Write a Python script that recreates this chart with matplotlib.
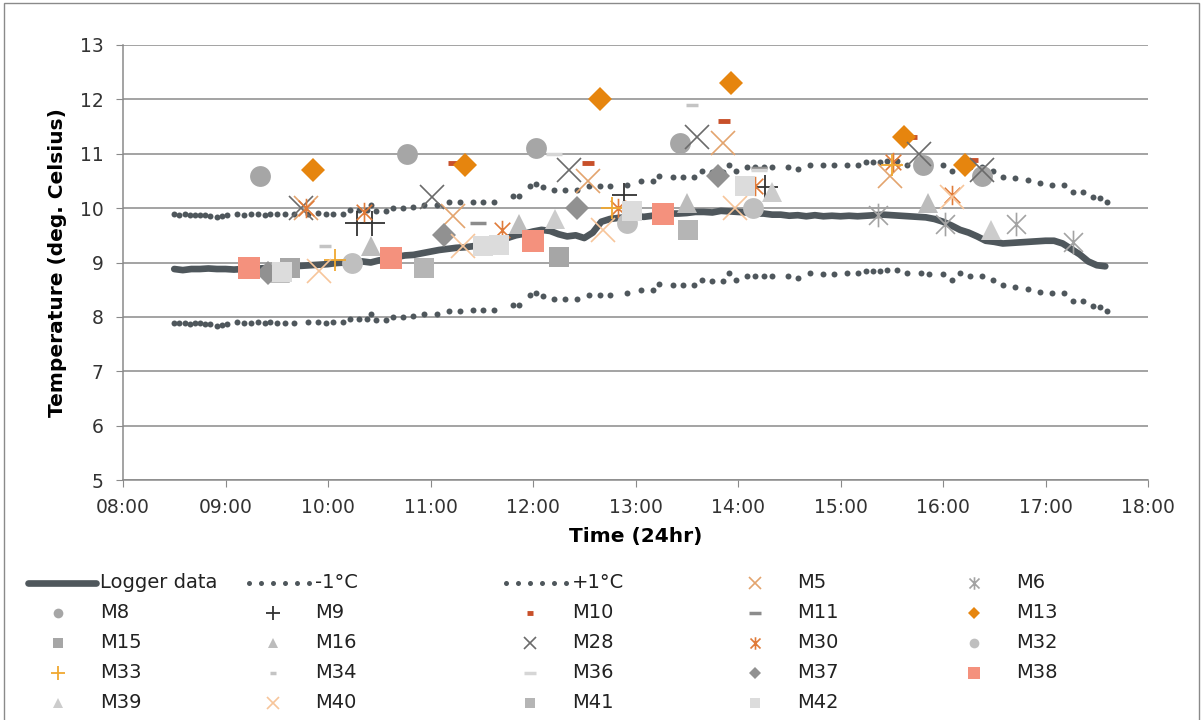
import matplotlib.pyplot as plt
from matplotlib.lines import Line2D
from matplotlib.path import Path
from matplotlib.patches import Rectangle

# ──────────────────────────────────────────────────────────────────────
# DATA (times as HH:MM, temperatures in deg. C)
# ──────────────────────────────────────────────────────────────────────
logger_times = [
    "08:30", "08:35", "08:40", "08:45", "08:50", "08:55", "09:00", "09:05", "09:10", "09:15",
    "09:20", "09:25", "09:30", "09:35", "09:40", "09:45", "09:50", "09:55", "10:00", "10:05",
    "10:10", "10:15", "10:20", "10:25", "10:30", "10:35", "10:40", "10:45", "10:50", "10:55",
    "11:00", "11:05", "11:10", "11:15", "11:20", "11:25", "11:30", "11:35", "11:40", "11:45",
    "11:50", "11:55", "12:00", "12:05", "12:10", "12:15", "12:20", "12:25", "12:30", "12:35",
    "12:40", "12:45", "12:50", "12:55", "13:00", "13:05", "13:10", "13:15", "13:20", "13:25",
    "13:30", "13:35", "13:40", "13:45", "13:50", "13:55", "14:00", "14:05", "14:10", "14:15",
    "14:20", "14:25", "14:30", "14:35", "14:40", "14:45", "14:50", "14:55", "15:00", "15:05",
    "15:10", "15:15", "15:20", "15:25", "15:30", "15:35", "15:40", "15:45", "15:50", "15:55",
    "16:00", "16:05", "16:10", "16:15", "16:20", "16:25", "16:30", "16:35", "16:40", "16:45",
    "16:50", "16:55", "17:00", "17:05", "17:10", "17:15", "17:20", "17:25", "17:30", "17:35",
]
logger_temp = [
    8.88, 8.86, 8.88, 8.88, 8.89, 8.88, 8.88, 8.87, 8.88, 8.88,
    8.89, 8.90, 8.90, 8.91, 8.93, 8.94, 8.95, 8.96, 8.97, 8.99,
    9.00, 9.00, 9.02, 9.00, 9.04, 9.06, 9.10, 9.13, 9.14, 9.17,
    9.20, 9.23, 9.25, 9.27, 9.28, 9.30, 9.33, 9.36, 9.40, 9.45,
    9.50, 9.53, 9.57, 9.60, 9.58, 9.52, 9.48, 9.50, 9.45, 9.55,
    9.75, 9.80, 9.82, 9.83, 9.85, 9.84, 9.86, 9.88, 9.90, 9.90,
    9.91, 9.93, 9.93, 9.92, 9.95, 9.94, 9.93, 9.92, 9.90, 9.90,
    9.88, 9.88, 9.86, 9.87, 9.85, 9.87, 9.85, 9.86, 9.85, 9.86,
    9.85, 9.86, 9.87, 9.88, 9.87, 9.86, 9.85, 9.84, 9.83, 9.80,
    9.75, 9.68, 9.60, 9.55, 9.48, 9.40, 9.38, 9.35, 9.36, 9.37,
    9.38, 9.39, 9.40, 9.40, 9.35, 9.25, 9.15, 9.02, 8.95, 8.93,
]

band_times = [
    "08:30", "08:33", "08:36", "08:39", "08:42", "08:45", "08:48", "08:51", "08:55", "08:58",
    "09:01", "09:07", "09:11", "09:15", "09:19", "09:23", "09:26", "09:30", "09:35", "09:40",
    "09:48", "09:54", "09:59", "10:03", "10:09", "10:13", "10:18", "10:23", "10:25", "10:28",
    "10:34", "10:38", "10:44", "10:50", "10:56", "11:04", "11:11", "11:17", "11:25", "11:31",
    "11:37", "11:48", "11:52", "11:58", "12:02", "12:06", "12:12", "12:19", "12:26", "12:33",
    "12:39", "12:45", "12:55", "13:03", "13:10", "13:14", "13:22", "13:28", "13:34", "13:39",
    "13:45", "13:51", "13:55", "13:59", "14:05", "14:10", "14:15", "14:20", "14:29", "14:35",
    "14:42", "14:50", "14:56", "15:04", "15:10", "15:15", "15:19", "15:23", "15:27", "15:33",
    "15:39", "15:47", "15:52", "16:00", "16:05", "16:10", "16:16", "16:23", "16:29", "16:35",
    "16:42", "16:50", "16:57", "17:04", "17:11", "17:16", "17:22", "17:28", "17:32", "17:36",
]
lower_temp = [
    7.89, 7.88, 7.89, 7.87, 7.88, 7.88, 7.87, 7.86, 7.84, 7.85,
    7.87, 7.90, 7.88, 7.89, 7.90, 7.88, 7.90, 7.89, 7.89, 7.89,
    7.90, 7.91, 7.89, 7.90, 7.90, 7.96, 7.97, 7.97, 8.06, 7.94,
    7.94, 8.00, 8.00, 8.02, 8.05, 8.05, 8.11, 8.11, 8.12, 8.12,
    8.12, 8.22, 8.22, 8.40, 8.44, 8.38, 8.33, 8.33, 8.33, 8.40,
    8.40, 8.40, 8.43, 8.49, 8.49, 8.60, 8.58, 8.58, 8.58, 8.68,
    8.66, 8.66, 8.80, 8.68, 8.75, 8.75, 8.75, 8.75, 8.75, 8.72,
    8.80, 8.79, 8.79, 8.80, 8.80, 8.84, 8.84, 8.84, 8.87, 8.87,
    8.80, 8.80, 8.79, 8.79, 8.68, 8.80, 8.75, 8.75, 8.68, 8.58,
    8.55, 8.52, 8.46, 8.43, 8.43, 8.30, 8.30, 8.20, 8.18, 8.11,
]
upper_temp = [
    9.89, 9.88, 9.89, 9.87, 9.88, 9.88, 9.87, 9.86, 9.84, 9.85,
    9.87, 9.90, 9.88, 9.89, 9.90, 9.88, 9.90, 9.89, 9.89, 9.89,
    9.90, 9.91, 9.89, 9.90, 9.90, 9.96, 9.97, 9.97, 10.06, 9.94,
    9.94, 10.00, 10.00, 10.02, 10.05, 10.05, 10.11, 10.11, 10.12, 10.12,
    10.12, 10.22, 10.22, 10.40, 10.44, 10.38, 10.33, 10.33, 10.33, 10.40,
    10.40, 10.40, 10.43, 10.49, 10.49, 10.60, 10.58, 10.58, 10.58, 10.68,
    10.66, 10.66, 10.80, 10.68, 10.75, 10.75, 10.75, 10.75, 10.75, 10.72,
    10.80, 10.79, 10.79, 10.80, 10.80, 10.84, 10.84, 10.84, 10.87, 10.87,
    10.80, 10.80, 10.79, 10.79, 10.68, 10.80, 10.75, 10.75, 10.68, 10.58,
    10.55, 10.52, 10.46, 10.43, 10.43, 10.30, 10.30, 10.20, 10.18, 10.11,
]

# spot measurements per meter (time, temperature)
M5_t = ["09:47", "11:13", "12:32", "13:51", "15:29"]
M5_v = [10.0, 9.85, 10.5, 11.2, 10.6]
M6_t = ["15:22", "16:01", "16:43", "17:16"]
M6_v = [9.88, 9.7, 9.7, 9.38]
M8_t = ["09:20", "10:46", "12:02", "13:26", "15:48", "16:23"]
M8_v = [10.6, 11.0, 11.1, 11.2, 10.8, 10.6]
M9_t = ["10:17", "10:26", "12:53", "14:16"]
M9_v = [9.72, 9.72, 10.25, 10.38]
M10_t = ["11:14", "12:32", "13:52", "15:41", "16:17"]
M10_v = [10.83, 10.83, 11.6, 11.3, 10.88]
M11_t = ["11:28", "14:12"]
M11_v = [9.72, 10.73]
M13_t = ["09:51", "11:20", "12:39", "13:56", "15:37", "16:13"]
M13_v = [10.7, 10.8, 12.0, 12.3, 11.3, 10.8]
M15_t = ["09:38", "12:15"]
M15_v = [8.9, 9.1]
M16_t = ["09:32", "10:25", "11:52", "13:30", "15:51"]
M16_v = [8.8, 9.3, 9.7, 10.1, 10.1]
M28_t = ["09:44", "11:01", "12:21", "13:36", "15:46", "16:23"]
M28_v = [10.0, 10.2, 10.7, 11.3, 11.0, 10.7]
M30_t = ["09:47", "10:21", "11:42", "12:50", "14:10", "15:31", "16:05"]
M30_v = [10.0, 9.93, 9.6, 10.0, 10.4, 10.85, 10.24]
M32_t = ["10:14", "12:55", "14:09"]
M32_v = [9.0, 9.72, 10.0]
M33_t = ["10:04", "12:46", "15:30"]
M33_v = [9.05, 10.0, 10.8]
M34_t = ["09:58", "13:33"]
M34_v = [9.3, 11.9]
M36_t = ["12:12", "14:12"]
M36_v = [11.0, 10.7]
M37_t = ["09:25", "11:08", "12:26", "13:48"]
M37_v = [8.8, 9.5, 10.0, 10.6]
M38_t = ["09:14", "10:37", "12:00", "13:16"]
M38_v = [8.9, 9.08, 9.39, 9.89]
M39_t = ["12:13", "14:20", "16:28"]
M39_v = [9.8, 10.3, 9.6]
M40_t = ["09:55", "11:19", "12:41", "13:58", "16:05"]
M40_v = [8.85, 9.3, 9.6, 10.0, 10.2]
M41_t = ["10:56", "13:31"]
M41_v = [8.9, 9.6]
M42_t = ["09:33", "11:31", "11:40", "12:58", "14:04"]
M42_v = [8.82, 9.3, 9.32, 9.95, 10.4]

DARK = "#4f575c"
FIG_W, FIG_H = 1203, 720


def hrs(times):
    return [int(t[:2]) + int(t[3:]) / 60 for t in times]


# Excel style "star" marker: an x with a vertical bar
STAR = Path([(-1, -1), (1, 1), (-1, 1), (1, -1), (0, -1.25), (0, 1.25)],
            [Path.MOVETO, Path.LINETO, Path.MOVETO, Path.LINETO, Path.MOVETO, Path.LINETO])

# name, times, values, marker style, plot size, legend size
meters = [
    ("M5", M5_t, M5_v, dict(marker="x", color="#e3a46e", mew=1.2), 17, 9),
    ("M6", M6_t, M6_v, dict(marker=STAR, color="#a3a3a3", mew=1.2), 17, 9),
    ("M8", M8_t, M8_v, dict(marker="o", color="#a6a6a6", mew=0), 15, 7),
    ("M9", M9_t, M9_v, dict(marker="+", color="#333333", mew=1.3), 18, 10),
    ("M10", M10_t, M10_v, dict(marker="_", color="#c8502a", mew=3.5), 8, 5),
    ("M11", M11_t, M11_v, dict(marker="_", color="#8c8c8c", mew=2.5), 11, 8),
    ("M13", M13_t, M13_v, dict(marker="D", color="#e6850e", mew=0), 12, 6),
    ("M15", M15_t, M15_v, dict(marker="s", color="#a6a6a6", mew=0), 14, 7),
    ("M16", M16_t, M16_v, dict(marker="^", color="#bcbcbc", mew=0), 15, 7),
    ("M28", M28_t, M28_v, dict(marker="x", color="#6b6b6b", mew=1.2), 17, 9),
    ("M30", M30_t, M30_v, dict(marker=STAR, color="#e07b39", mew=1.2), 14, 9),
    ("M32", M32_t, M32_v, dict(marker="o", color="#bfbfbf", mew=0), 15, 7),
    ("M33", M33_t, M33_v, dict(marker="+", color="#f0a830", mew=1.3), 16, 10),
    ("M34", M34_t, M34_v, dict(marker="_", color="#c4c4c4", mew=2.5), 8, 5),
    ("M36", M36_t, M36_v, dict(marker="_", color="#d6d6d6", mew=2.5), 12, 8),
    ("M37", M37_t, M37_v, dict(marker="D", color="#919191", mew=0), 12, 6),
    ("M38", M38_t, M38_v, dict(marker="s", color="#f4917d", mew=0), 16, 8),
    ("M39", M39_t, M39_v, dict(marker="^", color="#cccccc", mew=0), 15, 7),
    ("M40", M40_t, M40_v, dict(marker="x", color="#f7c59a", mew=1.2), 17, 9),
    ("M41", M41_t, M41_v, dict(marker="s", color="#b5b5b5", mew=0), 14, 7),
    ("M42", M42_t, M42_v, dict(marker="s", color="#dcdcdc", mew=0), 14, 7),
]

fig = plt.figure(figsize=(FIG_W / 100, FIG_H / 100), dpi=100)
ax = fig.add_axes([123 / FIG_W, 1 - 480 / FIG_H, (1148 - 123) / FIG_W, (480 - 45) / FIG_H])

ax.plot(hrs(logger_times), logger_temp, color=DARK, lw=4.8, solid_capstyle="round", zorder=3)
ax.plot(hrs(band_times), lower_temp, ls="none", marker="o", ms=4.3, color=DARK, mew=0, zorder=3)
ax.plot(hrs(band_times), upper_temp, ls="none", marker="o", ms=4.3, color=DARK, mew=0, zorder=3)

for name, t, v, style, ms, _ in meters:
    st = dict(style)
    c = st.pop("color")
    ax.plot(hrs(t), v, ls="none", ms=ms, markerfacecolor=c, markeredgecolor=c, zorder=4, **st)

ax.set_xlim(8, 18)
ax.set_ylim(5, 13)
ax.set_xticks(range(8, 19))
ax.set_xticklabels([f"{h:02d}:00" for h in range(8, 19)])
ax.set_yticks(range(5, 14))
ax.yaxis.grid(True, color="#8a8a8a", lw=1.1)
ax.set_axisbelow(True)
for s in ["top", "right"]:
    ax.spines[s].set_visible(False)
for s in ["left", "bottom"]:
    ax.spines[s].set_color("#8a8a8a")
    ax.spines[s].set_linewidth(1.1)
ax.tick_params(direction="out", length=5, color="#8a8a8a", labelsize=13.5,
               labelcolor="#333333")
ax.tick_params(axis="x", pad=8)
ax.tick_params(axis="y", pad=9)
ax.set_xlabel("Time (24hr)", fontsize=14.5, fontweight="bold", labelpad=7)
ax.set_ylabel("Temperature (deg. Celsius)", fontsize=14.5, fontweight="bold", labelpad=9)

# legend laid out like the Excel grid: 5 columns, 5 rows
col_text_x = [100, 315, 572, 797, 1016]
row_y = [583 + 30 * i for i in range(5)]


def fx(px):
    return px / FIG_W


def fy(py):
    return 1 - py / FIG_H


def legend_text(col, row, label):
    fig.text(fx(col_text_x[col]), fy(row_y[row]), label, fontsize=14, va="center",
             ha="left", color="#222222")


# row 1: line series
fig.add_artist(Line2D([fx(28), fx(96)], [fy(row_y[0])] * 2, transform=fig.transFigure,
                      color=DARK, lw=4.8, solid_capstyle="round"))
legend_text(0, 0, "Logger data")
for col, lab in [(1, "-1°C"), (2, "+1°C")]:
    x0 = col_text_x[col] - 66
    xs = [fx(x0 + 12 * k) for k in range(6)]
    fig.add_artist(Line2D(xs, [fy(row_y[0])] * 6, transform=fig.transFigure,
                          ls="none", marker="o", ms=3.6, color=DARK, mew=0))
    legend_text(col, 0, lab)

for i, (name, t, v, style, ms, lms) in enumerate(meters):
    row, col = divmod(i + 3, 5)
    st = dict(style)
    c = st.pop("color")
    fig.add_artist(Line2D([fx(col_text_x[col] - 42)], [fy(row_y[row])],
                          transform=fig.transFigure, ls="none", ms=lms,
                          markerfacecolor=c, markeredgecolor=c, **st))
    legend_text(col, row, name)

# thin frame round the whole chart
fig.add_artist(Rectangle((0.003, -0.01), 0.994, 1.006, transform=fig.transFigure,
                         fill=False, edgecolor="#8a8a8a", lw=1))

fig.savefig("out.png", dpi=100)
